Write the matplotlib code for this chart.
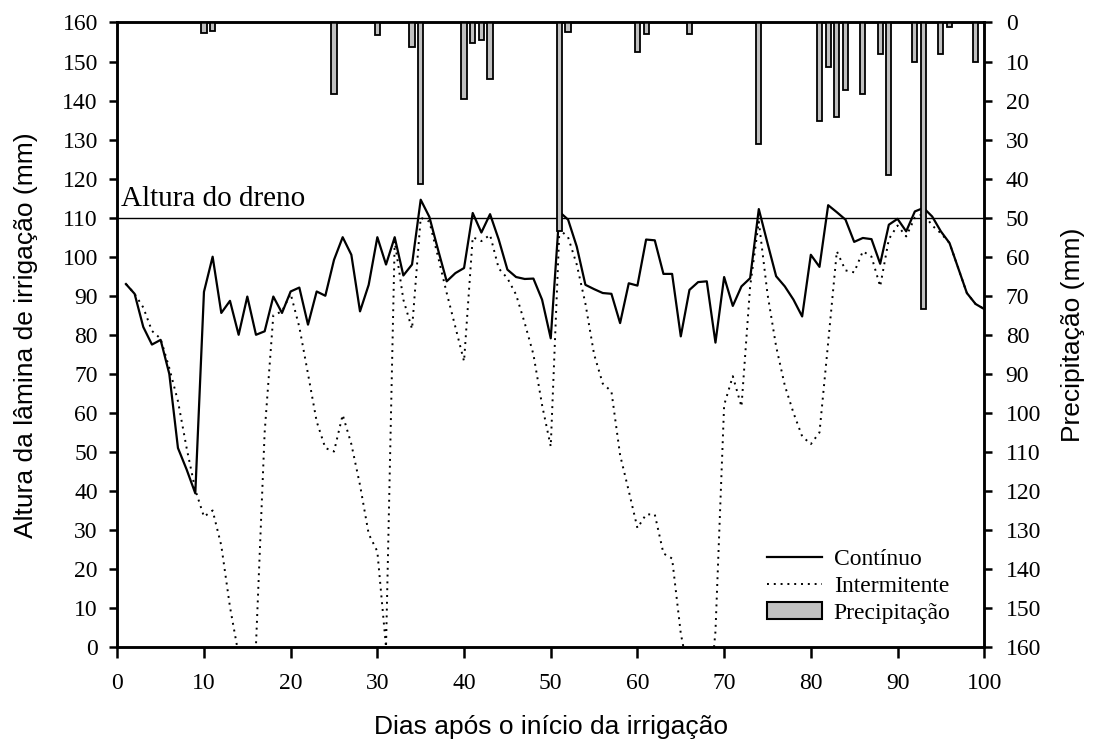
import matplotlib
matplotlib.use('Agg')
import matplotlib.pyplot as plt
from matplotlib.patches import Patch
from matplotlib.lines import Line2D

# Days after start of irrigation
dias = list(range(1, 101))

# Continuous irrigation - water depth (mm)
continuo = [93, 90.5, 82, 77.5, 78.7, 70, 51, 45.5, 39.4, 91,
            100, 85.6, 88.7, 80, 89.8, 80, 80.9, 89.8, 85.6, 91.1,
            92.1, 82.6, 91.1, 90, 99.2, 105, 100.5, 86, 92.8, 105,
            98, 105, 95.2, 98, 114.6, 110.2, 101.8, 93.7, 95.8, 97.1,
            111.2, 106.2, 110.9, 104.4, 96.7, 94.8, 94.3, 94.4, 89, 79.1,
            111.5, 109.5, 102.6, 92.8, 91.7, 90.7, 90.5, 83, 93.2, 92.6,
            104.4, 104.2, 95.6, 95.6, 79.6, 91.5, 93.5, 93.7, 78, 94.8,
            87.4, 92.4, 94.5, 112.2, 103.5, 95, 92.4, 89, 84.7, 100.5,
            97.4, 113.2, 111.4, 109.5, 103.8, 104.8, 104.5, 98.2, 108.2, 109.7,
            106.5, 111.6, 112.5, 110.3, 106.5, 103.5, 97.1, 90.7, 87.9, 86.6]

# Intermittent irrigation - water depth (mm); values below 0 fall outside the axis
intermitente = [93, 90.5, 87, 81, 79, 71.5, 63, 51, 40.3, 33.4,
                35, 26, 10.3, -2, -10, 0.5, 55, 85, 86, 90.5,
                82, 70, 57.8, 51, 50.1, 59.5, 52, 41.5, 29, 24.5,
                0, 104, 89, 81.5, 110, 109, 100, 90.7, 82, 73.2,
                105, 104, 105.6, 97, 94.5, 90.3, 83, 75, 62, 51.4,
                107, 105, 98, 88, 75, 67.5, 65.5, 49.2, 40, 30.5,
                34, 34, 24, 22.7, 3.5, -8, -15, -20, 4, 62,
                69.4, 61.6, 92.4, 109, 90.5, 77, 67, 60, 54, 52,
                55, 78, 101.4, 96.5, 96, 101.4, 100, 92.4, 104.5, 108,
                105.2, 110, 111, 108, 106, 103.5, 97.1, 90.7, 87.9, 86.6]

# Rainfall (mm)
dias_chuva = [10, 11, 25, 30, 34, 35, 40, 41, 42, 43,
              51, 52, 60, 61, 66, 74, 81, 82, 83, 84,
              86, 88, 89, 92, 93, 95, 96, 99]
precipitacao = [2.6, 2.2, 18.2, 3.2, 6.2, 41.4, 19.6, 5.3, 4.5, 14.4,
                53.4, 2.4, 7.5, 3.0, 3.0, 31.2, 25.2, 11.3, 24.3, 17.3,
                18.2, 8.2, 39.1, 10.2, 73.3, 8.2, 1.2, 10.2]

altura_dreno = 110

serif = 'Liberation Serif'
sans = 'Liberation Sans'

fig = plt.figure(figsize=(10.96, 7.49), dpi=100)
ax = fig.add_axes([0.107, 0.136, 0.791, 0.834])
ax2 = ax.twinx()

ax.plot(dias, continuo, color='black', linewidth=1.6, linestyle='-')
ax.plot(dias, intermitente, color='black', linewidth=1.4, linestyle=(0, (1, 2.5)))
ax.axhline(altura_dreno, color='black', linewidth=1.0)
ax.text(0.4, altura_dreno + 2.9, 'Altura do dreno', family=serif, fontsize=21,
        va='baseline', ha='left')

ax2.bar(dias_chuva, precipitacao, width=0.6, color='#c0c0c0',
        edgecolor='black', linewidth=1.3)

ax.set_xlim(0, 100)
ax.set_ylim(0, 160)
ax2.set_ylim(160, 0)
ax.set_xticks(range(0, 101, 10))
ax.set_yticks(range(0, 161, 10))
ax2.set_yticks(range(0, 161, 10))

for a in (ax, ax2):
    for s in a.spines.values():
        s.set_linewidth(1.8)
    for lab in a.get_xticklabels() + a.get_yticklabels():
        lab.set_family(serif)
ax.tick_params(axis='x', direction='out', length=8, width=1.8, labelsize=17, pad=10.5)
ax.tick_params(axis='y', direction='out', length=6, width=1.8, labelsize=17, pad=8)
ax2.tick_params(axis='y', direction='out', length=6, width=1.8, labelsize=17, pad=9.5)

ax.set_xlabel('Dias após o início da irrigação', family=sans, fontsize=19)
ax.set_ylabel('Altura da lâmina de irrigação (mm)', family=sans, fontsize=19)
ax2.set_ylabel('Precipitação (mm)', family=sans, fontsize=19)
ax.xaxis.set_label_coords(0.5, -0.108)
ax.yaxis.set_label_coords(-0.092, 0.5)
ax2.yaxis.set_label_coords(1.089, 0.5)

handles = [Line2D([], [], color='black', linewidth=1.6),
           Line2D([], [], color='black', linewidth=1.4, linestyle=(0, (1, 2.5))),
           Patch(facecolor='#c0c0c0', edgecolor='black', linewidth=1.5)]
ax2.legend(handles, ['Contínuo', 'Intermitente', 'Precipitação'],
           loc='lower left', bbox_to_anchor=(0.738, 0.022), borderaxespad=0,
           frameon=False, prop={'family': serif, 'size': 17}, handlelength=2.35,
           handletextpad=0.5, labelspacing=0.23)

fig.savefig('out.png', dpi=100)
